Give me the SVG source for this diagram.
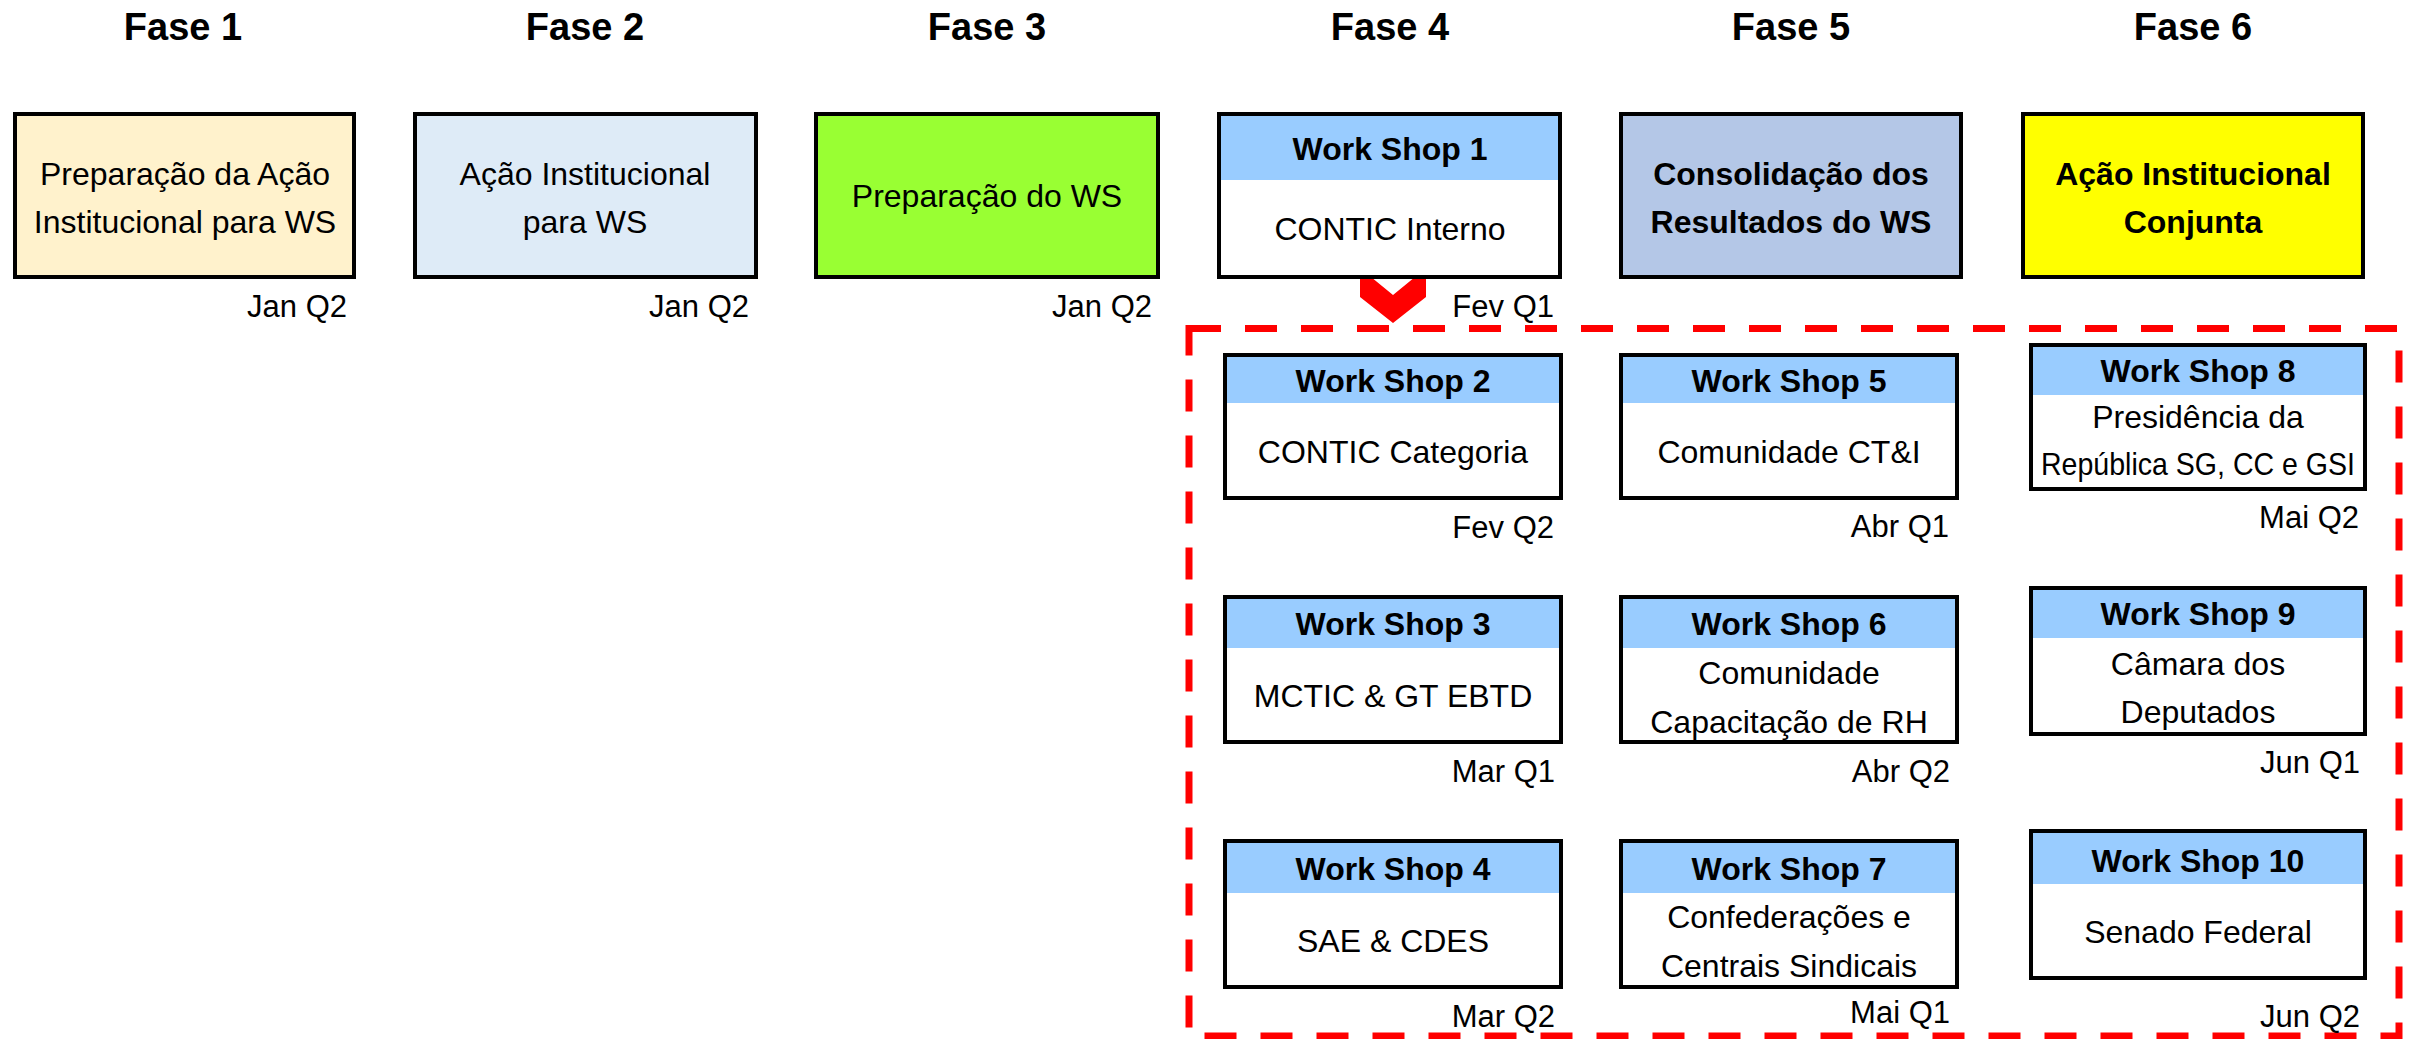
<svg xmlns="http://www.w3.org/2000/svg" width="2412" height="1039" viewBox="0 0 2412 1039">
<style>
.t{font-family:"Liberation Sans",Arial,sans-serif;font-size:32px;fill:#000;text-anchor:middle}
.b{font-weight:bold}
.f{font-family:"Liberation Sans",Arial,sans-serif;font-size:38px;font-weight:bold;text-anchor:middle}
.d{font-family:"Liberation Sans",Arial,sans-serif;font-size:31px;text-anchor:end}
.box{stroke:#000;stroke-width:4}
.hdr{fill:#99CCFF}
</style>
<rect width="2412" height="1039" fill="#fff"/>
<g id="titles">
<text class="f" x="183" y="40">Fase 1</text>
<text class="f" x="585" y="40">Fase 2</text>
<text class="f" x="987" y="40">Fase 3</text>
<text class="f" x="1390" y="40">Fase 4</text>
<text class="f" x="1791" y="40">Fase 5</text>
<text class="f" x="2193" y="40">Fase 6</text>
</g>
<g id="connectors">
<rect x="1189" y="328.5" width="1210" height="707.5" fill="none" stroke="#FF0000" stroke-width="7" stroke-dasharray="32 24"/>
<polygon points="1360,268 1393,295 1426,268 1426,297 1393,323 1360,297" fill="#FF0000"/>
</g>
<g id="fase1">
<rect class="box" x="15" y="114" width="339" height="163" fill="#FFF2CC"/>
<text class="t" x="185" y="185">Preparação da Ação</text>
<text class="t" x="185" y="233">Institucional para WS</text>
<text class="d" x="347" y="317">Jan Q2</text>
</g>
<g id="fase2">
<rect class="box" x="415" y="114" width="341" height="163" fill="#DEEBF7"/>
<text class="t" x="585" y="185">Ação Institucional</text>
<text class="t" x="585" y="233">para WS</text>
<text class="d" x="749" y="317">Jan Q2</text>
</g>
<g id="fase3">
<rect class="box" x="816" y="114" width="342" height="163" fill="#99FF33"/>
<text class="t" x="987" y="207">Preparação do WS</text>
<text class="d" x="1152" y="317">Jan Q2</text>
</g>
<g id="ws1">
<rect class="box" x="1219" y="114" width="341" height="163" fill="#fff"/>
<rect class="hdr" x="1221" y="116" width="337" height="64"/>
<text class="t b" x="1390" y="160">Work Shop 1</text>
<text class="t" x="1390" y="240">CONTIC Interno</text>
<text class="d" x="1554" y="317">Fev Q1</text>
</g>
<g id="fase5">
<rect class="box" x="1621" y="114" width="340" height="163" fill="#B4C7E7"/>
<text class="t b" x="1791" y="185">Consolidação dos</text>
<text class="t b" x="1791" y="233">Resultados do WS</text>
</g>
<g id="fase6">
<rect class="box" x="2023" y="114" width="340" height="163" fill="#FFFF00"/>
<text class="t b" x="2193" y="185">Ação Institucional</text>
<text class="t b" x="2193" y="233">Conjunta</text>
</g>
<g id="ws2">
<rect class="box" x="1225" y="355" width="336" height="143" fill="#fff"/>
<rect class="hdr" x="1227" y="357" width="332" height="46"/>
<text class="t b" x="1393" y="392">Work Shop 2</text>
<text class="t" x="1393" y="463">CONTIC Categoria</text>
<text class="d" x="1554" y="538">Fev Q2</text>
</g>
<g id="ws3">
<rect class="box" x="1225" y="597" width="336" height="145" fill="#fff"/>
<rect class="hdr" x="1227" y="599" width="332" height="49"/>
<text class="t b" x="1393" y="635">Work Shop 3</text>
<text class="t" x="1393" y="707">MCTIC &amp; GT EBTD</text>
<text class="d" x="1555" y="782">Mar Q1</text>
</g>
<g id="ws4">
<rect class="box" x="1225" y="841" width="336" height="146" fill="#fff"/>
<rect class="hdr" x="1227" y="843" width="332" height="50"/>
<text class="t b" x="1393" y="880">Work Shop 4</text>
<text class="t" x="1393" y="952">SAE &amp; CDES</text>
<text class="d" x="1555" y="1027">Mar Q2</text>
</g>
<g id="ws5">
<rect class="box" x="1621" y="355" width="336" height="143" fill="#fff"/>
<rect class="hdr" x="1623" y="357" width="332" height="46"/>
<text class="t b" x="1789" y="392">Work Shop 5</text>
<text class="t" x="1789" y="463">Comunidade CT&amp;I</text>
<text class="d" x="1949" y="537">Abr Q1</text>
</g>
<g id="ws6">
<rect class="box" x="1621" y="597" width="336" height="145" fill="#fff"/>
<rect class="hdr" x="1623" y="599" width="332" height="49"/>
<text class="t b" x="1789" y="635">Work Shop 6</text>
<text class="t" x="1789" y="684">Comunidade</text>
<text class="t" x="1789" y="733">Capacitação de RH</text>
<text class="d" x="1950" y="782">Abr Q2</text>
</g>
<g id="ws7">
<rect class="box" x="1621" y="841" width="336" height="146" fill="#fff"/>
<rect class="hdr" x="1623" y="843" width="332" height="50"/>
<text class="t b" x="1789" y="880">Work Shop 7</text>
<text class="t" x="1789" y="928">Confederações e</text>
<text class="t" x="1789" y="977">Centrais Sindicais</text>
<text class="d" x="1950" y="1023">Mai Q1</text>
</g>
<g id="ws8">
<rect class="box" x="2031" y="345" width="334" height="144" fill="#fff"/>
<rect class="hdr" x="2033" y="347" width="330" height="48"/>
<text class="t b" x="2198" y="382">Work Shop 8</text>
<text class="t" x="2198" y="428">Presidência da</text>
<text class="t" x="2198" y="475" textLength="314" lengthAdjust="spacingAndGlyphs">República SG, CC e GSI</text>
<text class="d" x="2359" y="528">Mai Q2</text>
</g>
<g id="ws9">
<rect class="box" x="2031" y="588" width="334" height="146" fill="#fff"/>
<rect class="hdr" x="2033" y="590" width="330" height="48"/>
<text class="t b" x="2198" y="625">Work Shop 9</text>
<text class="t" x="2198" y="675">Câmara dos</text>
<text class="t" x="2198" y="723">Deputados</text>
<text class="d" x="2360" y="773">Jun Q1</text>
</g>
<g id="ws10">
<rect class="box" x="2031" y="831" width="334" height="147" fill="#fff"/>
<rect class="hdr" x="2033" y="833" width="330" height="51"/>
<text class="t b" x="2198" y="872">Work Shop 10</text>
<text class="t" x="2198" y="943">Senado Federal</text>
<text class="d" x="2360" y="1027">Jun Q2</text>
</g>
</svg>
